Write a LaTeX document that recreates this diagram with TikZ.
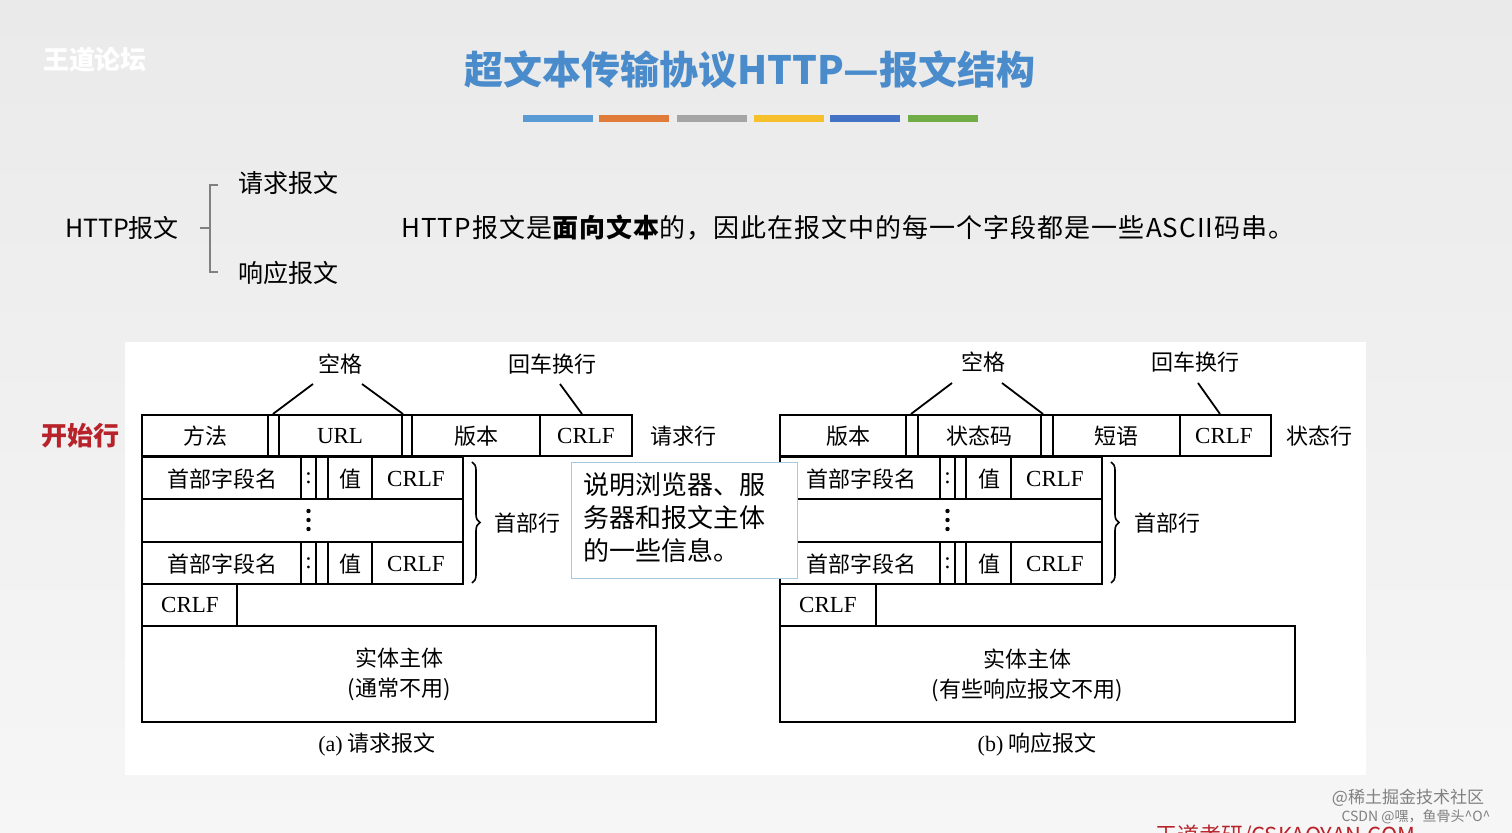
\documentclass[tikz,border=0pt]{standalone}
\usepackage{fontspec}
\setmainfont{Liberation Serif}
\newfontfamily\cjk{Noto Sans CJK SC}
\usetikzlibrary{decorations.pathreplacing}
\definecolor{bgA}{HTML}{EAEAEA}
\definecolor{bgB}{HTML}{F6F6F6}
\definecolor{ttl}{HTML}{4A8CCB}
\definecolor{redc}{HTML}{B8232B}
\begin{document}
\begin{tikzpicture}[x=0.5pt,y=-0.5pt,
  bx/.style={draw=black,line width=1.3pt},
  dt/.style={font=\cjk\fontsize{11}{13}\selectfont,inner sep=0pt},
  lt/.style={font=\fontsize{11.5}{13}\selectfont,inner sep=0pt},
  ln/.style={line width=0.9pt},
  brc/.style={decorate,decoration={brace,amplitude=4pt},line width=0.8pt}]
\useasboundingbox (0,0) rectangle (1512,833);
\shade[top color=bgA,bottom color=bgB] (0,0) rectangle (1512,833);
\fill[white] (125,342) rectangle (1366,775);
% logo
\node[font=\cjk\bfseries\fontsize{13}{15}\selectfont,text=white] (logo) at (95,60) {王道论坛};
% title
\node[font=\cjk\bfseries\fontsize{19.5}{22}\selectfont,text=ttl] (title) at (750,70) {超文本传输协议HTTP—报文结构};
\foreach \a/\c in {523/5B9BD5,599/E07B39,677/A5A5A5,754/F5C02C,830/4472C4,908/70AD47}{
  \definecolor{tmp}{HTML}{\c}\fill[tmp] (\a,115) rectangle ++(70,7);}
% intro
\node[font=\cjk\fontsize{12.5}{14}\selectfont] (hm) at (122,228) {HTTP报文};
\draw[ln,gray] (218,185) -- (210,185) -- (210,272) -- (218,272);
\draw[ln,gray] (200,228) -- (210,228);
\node[font=\cjk\fontsize{12.5}{14}\selectfont] (rq) at (288,183) {请求报文};
\node[font=\cjk\fontsize{12.5}{14}\selectfont] (rs) at (288,273) {响应报文};
\node[font=\cjk\fontsize{13}{14}\selectfont,anchor=west,inner sep=0pt] (sent) at (401,228) {\addfontfeature{LetterSpace=4}HTTP报文是{\bfseries 面向文本}的，因此在报文中的每一个字段都是一些ASCII码串。};
% left diagram
\node[font=\cjk\bfseries\fontsize{13}{14}\selectfont,text=redc] (kx) at (80,436) {开始行};
\draw[bx] (142,415) rectangle (632,456);
\foreach \x in {268,279,402,412,540} \draw[bx] (\x,415) -- (\x,456);
\node[dt] (ff) at (205,436) {方法};
\node[lt] (url) at (340,436) {URL};
\node[dt] (bb) at (476,436) {版本};
\node[lt] (c1) at (586,436) {CRLF};
\node[dt] (qqh) at (683,436) {请求行};
\node[dt] (kg1) at (340,364) {空格};
\node[dt] (hc1) at (552,364) {回车换行};
\coordinate (k1a) at (313,384); \coordinate (k1b) at (362,384);
\draw[ln] (k1a) -- (273,414); \draw[ln] (k1b) -- (403,414);
\coordinate (h1) at (560,384); \draw[ln] (h1) -- (582,414);
\foreach \y in {457,542}{
  \draw[bx] (142,\y) rectangle (463,\y+42);
  \foreach \x in {301,316,328,372} \draw[bx] (\x,\y) -- (\x,\y+42);
  \node[dt] at (222,\y+22) {首部字段名};
  \node[lt] at (308.5,\y+21) {:};
  \node[dt] at (350,\y+22) {值};
  \node[lt] at (416,\y+22) {CRLF};}
\draw[bx] (142,499) rectangle (463,542);
\foreach \yy in {511,520,529} \fill (308.5,\yy) circle (1.1pt);
\draw[brc] (472,462) -- (472,583);
\node[dt] (sb1) at (527,523) {首部行};
\draw[bx] (142,584) rectangle (237,626);
\node[lt] (c2) at (190,605) {CRLF};
\draw[bx] (142,626) rectangle (656,722);
\node[dt] (st1) at (399,658) {实体主体};
\node[font=\cjk\fontsize{11}{13}\selectfont] (st1b) at (399,689) {(通常不用)};
\node[font=\cjk\fontsize{11}{13}\selectfont] (cap1) at (377,745) {{\rmfamily(a)} 请求报文};
% right diagram
\draw[bx] (780,415) rectangle (1271,456);
\foreach \x in {906,918,1041,1053,1180} \draw[bx] (\x,415) -- (\x,456);
\node[dt] (rb) at (848,436) {版本};
\node[dt] (ztm) at (979,436) {状态码};
\node[dt] (dy) at (1116,436) {短语};
\node[lt] (c3) at (1224,436) {CRLF};
\node[dt] (zth) at (1319,436) {状态行};
\node[dt] (kg2) at (983,362) {空格};
\node[dt] (hc2) at (1195,362) {回车换行};
\coordinate (k2a) at (952,383); \coordinate (k2b) at (1002,383);
\draw[ln] (k2a) -- (911,414); \draw[ln] (k2b) -- (1043,414);
\coordinate (h2) at (1198,383); \draw[ln] (h2) -- (1220,414);
\foreach \y in {457,542}{
  \draw[bx] (780,\y) rectangle (1102,\y+42);
  \foreach \x in {940,955,966,1011} \draw[bx] (\x,\y) -- (\x,\y+42);
  \node[dt] at (861,\y+22) {首部字段名};
  \node[lt] at (947.5,\y+21) {:};
  \node[dt] at (989,\y+22) {值};
  \node[lt] at (1055,\y+22) {CRLF};}
\draw[bx] (780,499) rectangle (1102,542);
\foreach \yy in {511,520,529} \fill (947.5,\yy) circle (1.1pt);
\draw[brc] (1111,462) -- (1111,583);
\node[dt] (sb2) at (1167,523) {首部行};
\draw[bx] (780,584) rectangle (876,626);
\node[lt] (c4) at (828,605) {CRLF};
\draw[bx] (780,626) rectangle (1295,722);
\node[dt] (st2) at (1027,659) {实体主体};
\node[font=\cjk\fontsize{11}{13}\selectfont] (st2b) at (1027,690) {(有些响应报文不用)};
\node[font=\cjk\fontsize{11}{13}\selectfont] (cap2) at (1037,745) {{\rmfamily(b)} 响应报文};
% tooltip
\node[draw={rgb,255:red,168;green,200;blue,224},fill=white,line width=0.7pt,minimum width=113pt,minimum height=58pt,anchor=north west,inner sep=0pt] (tip) at (571,462) {};
\node[font=\cjk\fontsize{13}{16.5}\selectfont,anchor=north west,align=left,inner sep=0pt] (tipt) at (583,472) {说明浏览器、服\\务器和报文主体\\的一些信息。};
% watermarks
\node[font=\cjk\fontsize{8.5}{10}\selectfont,text=gray] (wm1) at (1408,798) {@稀土掘金技术社区};
\node[font=\cjk\fontsize{7}{8}\selectfont,text=gray] (wm2) at (1416,817) {CSDN @嘿，鱼骨头\textasciicircum O\textasciicircum};
\node[font=\cjk\fontsize{11}{12}\selectfont,text=redc,anchor=west] (ft) at (1148,836) {王道考研/CSKAOYAN.COM};
\end{tikzpicture}
\end{document}
